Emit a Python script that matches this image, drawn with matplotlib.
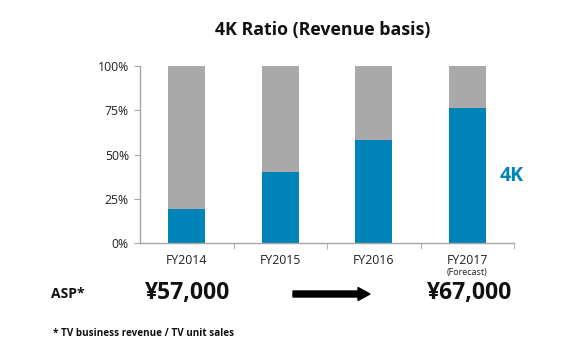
import matplotlib.pyplot as plt
from matplotlib.patches import FancyArrow

plt.rcParams['font.family'] = ['Open Sans', 'DejaVu Sans']

# Datos
years = ['FY2014', 'FY2015', 'FY2016', 'FY2017']
ratio_4k = [19, 40, 58, 76]
ratio_other = [100 - v for v in ratio_4k]
yticks = [0, 25, 50, 75, 100]
asp_labels = ['¥57,000', '¥67,000']

blue = '#0083b8'
gray = '#a9a9a9'
axis_gray = '#a6a6a6'

fig = plt.figure(figsize=(5.8, 3.53), dpi=100)
ax = fig.add_axes([140 / 580, 1 - 243 / 353, 374 / 580, 177 / 353])

x = range(len(years))
ax.bar(x, ratio_4k, width=0.4, color=blue, zorder=2)
ax.bar(x, ratio_other, width=0.4, bottom=ratio_4k, color=gray, zorder=2)

ax.set_xlim(-0.5, 3.5)
ax.set_ylim(0, 100)
ax.set_yticks(yticks)
ax.set_yticklabels([f'{v}%' for v in yticks])
ax.set_xticks(list(x))
ax.set_xticklabels(years)
ax.set_xticks([0.5, 1.5, 2.5, 3.5], minor=True)

ax.tick_params(axis='y', length=4, color=axis_gray, labelsize=8.8, pad=4,
               labelcolor='#222222')
ax.tick_params(axis='x', which='major', length=0, labelsize=8.8, pad=8,
               labelcolor='#222222')
ax.tick_params(axis='x', which='minor', length=4, color=axis_gray)

for s in ['top', 'right']:
    ax.spines[s].set_visible(False)
for s in ['left', 'bottom']:
    ax.spines[s].set_color(axis_gray)
    ax.spines[s].set_linewidth(1)

# Titulo
fig.text(323 / 580, 1 - 30 / 353, '4K Ratio (Revenue basis)', fontsize=12.8,
         fontweight='bold', ha='center', va='center', color='#111111')

# Etiqueta 4K
fig.text(512 / 580, 1 - 176 / 353, '4K', fontsize=14, fontweight='bold',
         ha='center', va='center', color=blue)

# (Forecast)
fig.text(467 / 580, 1 - 273 / 353, '(Forecast)', fontsize=6.5,
         ha='center', va='center', color='#222222')

# ASP
fig.text(51 / 580, 1 - 294 / 353, 'ASP*', fontsize=10, fontweight='bold',
         ha='left', va='center', color='#111111')
fig.text(188 / 580, 1 - 293 / 353, asp_labels[0], fontsize=16.5,
         fontweight='bold', ha='center', va='center', color='#111111')
fig.text(470 / 580, 1 - 293 / 353, asp_labels[1], fontsize=16.5,
         fontweight='bold', ha='center', va='center', color='#111111')

arrow = FancyArrow(293 / 580, 1 - 294 / 353, 65 / 580, 0, width=6 / 353,
                   head_width=13 / 353, head_length=12 / 580,
                   length_includes_head=False, color='black',
                   transform=fig.transFigure)
fig.patches.append(arrow)

# Nota
fig.text(53 / 580, 1 - 333 / 353, '* TV business revenue / TV unit sales',
         fontsize=7.1, fontweight='bold', ha='left', va='center',
         color='#111111')

fig.savefig('out.png', dpi=100, facecolor='white')
